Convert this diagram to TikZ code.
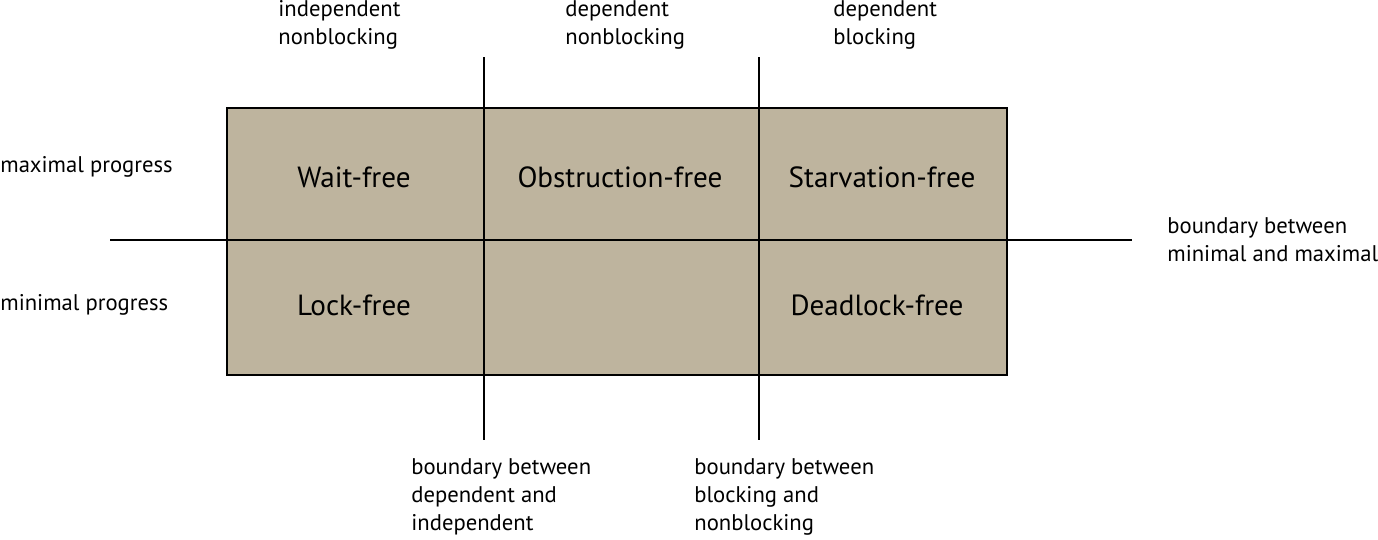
\documentclass[tikz,border=0pt]{standalone}
\usepackage{fontspec}
\setmainfont{PT Sans}
\usepackage{tikz}
\usetikzlibrary{positioning}

\definecolor{tan}{RGB}{190,180,158}

\begin{document}
\begin{tikzpicture}[x=0.02cm, y=-0.02cm,
  cell/.style={font=\fontsize{16.6}{20}\selectfont},
  note/.style={anchor=west, align=left, inner sep=0pt, font=\fontsize{12.9}{15.9}\selectfont},
  line/.style={draw, line width=0.9pt}
]
  \useasboundingbox (0,0) rectangle (1378,539);

  % the grid
  \node[draw, line width=0.9pt, fill=tan, minimum width=15.6cm, minimum height=5.34cm, inner sep=0pt] (grid) at (617,241.5) {};

  \coordinate (v1t) at (484,57);
  \coordinate (v1b) at (484,440);
  \coordinate (v2t) at (759,57);
  \coordinate (v2b) at (759,440);
  \coordinate (hl) at (110,240);
  \coordinate (hr) at (1132,240);

  \path[line] (v1t) -- (v1b);
  \path[line] (v2t) -- (v2b);
  \path[line] (hl) -- (hr);

  % cells
  \node[cell] (wait)  at (354,177) {Wait-free};
  \node[cell] (obst)  at (620,177) {Obstruction-free};
  \node[cell] (starv) at (882,177) {Starvation-free};
  \node[cell] (lock)  at (354,305) {Lock-free};
  \node[cell] (dead)  at (877,305) {Deadlock-free};

  % notes
  \node[note] (indnb) at (278,25) {independent\\nonblocking};
  \node[note] (depnb) at (565,25) {dependent\\nonblocking};
  \node[note] (depb)  at (833,25) {dependent\\blocking};
  \node[note] (maxp)  at (0,167) {maximal progress};
  \node[note] (minp)  at (0,305) {minimal progress};
  \node[note] (bmm)   at (1167,240) {boundary between\\minimal and maximal};
  \node[note] (bdi)   at (411,497) {boundary between\\dependent and\\independent};
  \node[note] (bbn)   at (694,497) {boundary between\\blocking and\\nonblocking};
\end{tikzpicture}
\end{document}
